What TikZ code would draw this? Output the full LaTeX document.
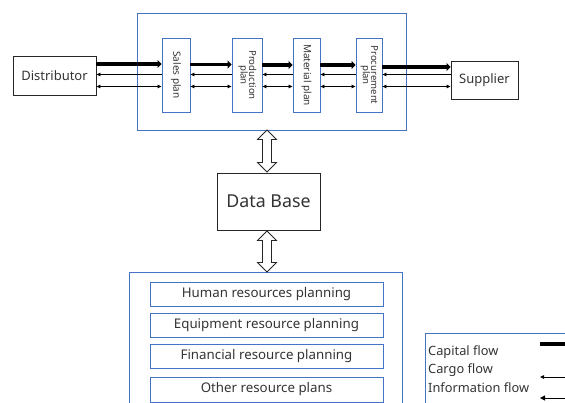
\documentclass[tikz,border=0pt]{standalone}
\usepackage{fontspec}
\setmainfont{Noto Sans}
\usetikzlibrary{arrows.meta}
\definecolor{bluebox}{HTML}{4472C4}
\definecolor{txt}{HTML}{333333}
\begin{document}
\begin{tikzpicture}[x=1pt,y=-1pt,
  blk/.style={draw=black!85, line width=0.9pt, text=txt, inner sep=0pt},
  frame/.style={draw=bluebox, line width=0.9pt, inner sep=0pt, anchor=north west},
  plan/.style={draw=bluebox, line width=0.9pt, text=txt, inner sep=0pt, minimum height=74pt, font=\fontsize{10}{11}\selectfont},
  res/.style={draw=bluebox, line width=0.9pt, minimum width=233pt, inner sep=0pt, text=txt, font=\fontsize{13.3}{15}\selectfont},
  leg/.style={anchor=west, inner sep=0pt, text=txt, font=\fontsize{12.8}{14}\selectfont},
  capital/.style={line width=3.5pt, -{Triangle[length=4pt,width=8pt]}},
  cargo/.style={line width=0.8pt, {Triangle[length=4pt,width=3.5pt]}-},
  info/.style={line width=0.8pt, {Triangle[length=4pt,width=3.5pt]}-{Triangle[length=4pt,width=3.5pt]}},
  hollow/.style={draw=black!85, fill=white, line width=0.8pt, line join=miter}
]
\useasboundingbox (0,0) rectangle (565,403);
\clip (0,0) rectangle (565,403);

% frames
\node[frame, minimum width=269pt, minimum height=117pt] (planbox) at (137,13) {};
\node[frame, minimum width=273pt, minimum height=150pt] (resbox) at (129,272) {};
\node[frame, minimum width=175pt, minimum height=120pt] (legend) at (425,333) {};

% top row
\node[blk, minimum width=83pt, minimum height=39pt, font=\fontsize{13}{15}\selectfont] (dist) at (54.5,75.5) {Distributor};
\node[plan, minimum width=28pt] (sales) at (176,75) {\rotatebox[origin=c]{-90}{Sales plan}};
\node[plan, minimum width=30pt, font=\fontsize{9.6}{10}\selectfont] (prod) at (247,75) {\rotatebox[origin=c]{-90}{\begin{tabular}{@{}c@{}}Production\\[-2pt]plan\end{tabular}}};
\node[plan, minimum width=27pt] (mat) at (306.5,75) {\rotatebox[origin=c]{-90}{Material plan}};
\node[plan, minimum width=26pt, font=\fontsize{9.6}{10}\selectfont] (proc) at (369,75) {\rotatebox[origin=c]{-90}{\begin{tabular}{@{}c@{}}Procurement\\[-2pt]plan\end{tabular}}};
\node[blk, minimum width=67pt, minimum height=38pt, font=\fontsize{13}{15}\selectfont] (supp) at (484.5,80) {Supplier};

% flow levels
\coordinate (yA) at (0,64);
\coordinate (yB) at (0,64.5);
\coordinate (yC) at (0,65);
\coordinate (yD) at (0,67);
\coordinate (yc) at (0,74.5);
\coordinate (yi) at (0,86.5);

\draw[capital] (dist.east |- yA) -- (sales.west |- yA);
\draw[capital] (sales.east |- yB) -- (prod.west |- yB);
\draw[capital] (prod.east |- yC) -- (mat.west |- yC);
\draw[capital] (mat.east |- yC) -- (proc.west |- yC);
\draw[capital] (proc.east |- yD) -- (supp.west |- yD);

\draw[cargo] (dist.east |- yc) -- (sales.west |- yc);
\draw[cargo] (sales.east |- yc) -- (prod.west |- yc);
\draw[cargo] (prod.east |- yc) -- (mat.west |- yc);
\draw[cargo] (mat.east |- yc) -- (proc.west |- yc);
\draw[cargo] (proc.east |- yc) -- (supp.west |- yc);

\draw[info] (dist.east |- yi) -- (sales.west |- yi);
\draw[info] (sales.east |- yi) -- (prod.west |- yi);
\draw[info] (prod.east |- yi) -- (mat.west |- yi);
\draw[info] (mat.east |- yi) -- (proc.west |- yi);
\draw[info] (proc.east |- yi) -- (supp.west |- yi);

% data base
\node[blk, minimum width=103pt, minimum height=57pt, font=\fontsize{17.8}{20}\selectfont] (db) at (268.5,201.5) {Data Base};

% hollow double arrows
\coordinate (h1) at (267,130);
\coordinate (h2) at (267,231);
\draw[hollow] (h1) -- ++(9.5,9.5) -- ++(-5,0) -- ++(0,23) -- ++(5,0) -- ++(-9.5,9.5) -- ++(-9.5,-9.5) -- ++(5,0) -- ++(0,-23) -- ++(-5,0) -- cycle;
\draw[hollow] (h2) -- ++(9.5,9.5) -- ++(-5,0) -- ++(0,22) -- ++(5,0) -- ++(-9.5,9.5) -- ++(-9.5,-9.5) -- ++(5,0) -- ++(0,-22) -- ++(-5,0) -- cycle;

% resources
\node[res, minimum height=24pt] (hr) at (266.5,294) {Human resources planning};
\node[res, minimum height=24pt] (eq) at (266.5,325) {Equipment resource planning};
\node[res, minimum height=24pt] (fin) at (266.5,356) {Financial resource planning};
\node[res, minimum height=25pt] (oth) at (266.5,389.5) {Other resource plans};

% legend
\node[leg] (l1) at (428,352) {Capital flow};
\node[leg] (l2) at (428,370) {Cargo flow};
\node[leg] (l3) at (428,388) {Information flow};
\coordinate (e1) at (575,344);
\coordinate (e2) at (575,377);
\coordinate (e3) at (575,398);
\draw[line width=3.5pt] (540,344) -- (e1);
\draw[cargo] (540,377) -- (e2);
\draw[line width=1pt, {Triangle[length=5pt,width=5pt]}-] (540,398) -- (e3);
\end{tikzpicture}
\end{document}
